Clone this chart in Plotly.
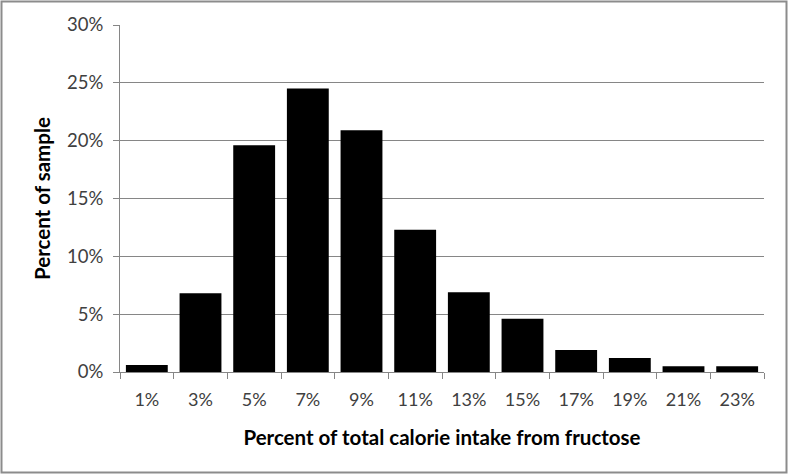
import plotly.graph_objects as go

categories = ["1%", "3%", "5%", "7%", "9%", "11%", "13%", "15%", "17%", "19%", "21%", "23%"]
values = [0.6, 6.8, 19.6, 24.5, 20.9, 12.3, 6.9, 4.6, 1.9, 1.2, 0.5, 0.5]
y_ticks = [0, 5, 10, 15, 20, 25, 30]
y_tick_text = [f"{v}%" for v in y_ticks]

FONT = "Lato, Open Sans, sans-serif"

fig = go.Figure(go.Bar(
    x=categories, y=values,
    marker=dict(color="black", line=dict(width=0)),
))

L, R, T, B, W, H = 120, 24, 25, 102, 788, 474
pw = W - L - R
ph = H - T - B

fig.update_layout(
    width=W, height=H,
    margin=dict(l=L, r=R, t=T, b=B),
    paper_bgcolor="white", plot_bgcolor="white",
    bargap=0.22,
    showlegend=False,
    font=dict(family=FONT, size=18, color="#404040"),
    xaxis=dict(
        type="category",
        tickson="boundaries",
        ticks="outside", ticklen=6, tickcolor="#868686",
        showline=True, linecolor="#868686", linewidth=1,
        showgrid=False,
        ticklabelstandoff=11,
        tickfont=dict(size=18, color="#404040"),
        title=dict(text="<b>Percent of total calorie intake from fructose</b>",
                   font=dict(size=20.5, color="black"), standoff=22),
    ),
    yaxis=dict(
        range=[0, 30],
        tickmode="array",
        tickvals=y_ticks,
        ticktext=y_tick_text,
        ticks="outside", ticklen=6, tickcolor="#868686",
        showline=True, linecolor="#868686", linewidth=1,
        showgrid=True, gridcolor="#868686", gridwidth=1,
        zeroline=False,
        ticklabelstandoff=6,
        tickfont=dict(size=18.5, color="#404040"),
        title=dict(text="<b>Percent of sample</b>",
                   font=dict(size=20.5, color="black"), standoff=10),
    ),
    shapes=[dict(
        type="rect", xref="paper", yref="paper",
        x0=(1.5 - L) / pw, x1=(W - 1.5 - L) / pw,
        y0=((H - B) - (H - 1.5)) / ph, y1=((H - B) - 1.5) / ph,
        line=dict(color="#8c8c8c", width=2), layer="above",
    )],
)

fig.write_html("out.html", config={"displayModeBar": False},
               post_script="document.body.style.margin='0';")
